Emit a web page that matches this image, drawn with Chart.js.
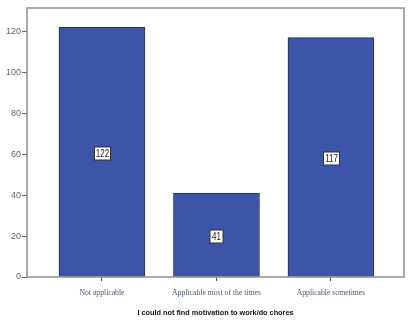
<!DOCTYPE html>
<html>
<head>
<meta charset="utf-8">
<script src="https://cdn.jsdelivr.net/npm/chart.js@4"></script>
<style>
  html, body { margin: 0; padding: 0; background: #fff; }
  #wrap { width: 409px; height: 321px; }
</style>
</head>
<body>
<div id="wrap"><canvas id="motivationChart" width="409" height="321"></canvas></div>
<script>
const categories = ['Not applicable', 'Applicable most of the times', 'Applicable sometimes'];
const counts = [122, 41, 117];
const yTicks = [0, 20, 40, 60, 80, 100, 120];
const xTitle = 'I could not find motivation to work/do chores';

const sans = '"Liberation Sans", Arial, sans-serif';

// frame round the plot area plus boxed count labels inside the bars
const framePlugin = {
    id: 'frame',
    afterDraw(chart) {
        const { ctx, chartArea: a } = chart;
        ctx.save();
        ctx.strokeStyle = '#909090';
        ctx.lineWidth = 1.5;
        ctx.strokeRect(a.left, a.top, a.right - a.left, a.bottom - a.top);

        const meta = chart.getDatasetMeta(0);
        const squeeze = 0.76;
        ctx.font = '10.5px ' + sans;
        ctx.textAlign = 'center';
        ctx.textBaseline = 'middle';
        meta.data.forEach((bar, i) => {
            const txt = String(counts[i]);
            const cx = Math.round(bar.x) + 0.5;
            const cy = Math.round((bar.y + bar.base) / 2 + 1) + 0.5;
            const w = Math.max(13, Math.round(ctx.measureText(txt).width * squeeze + 3));
            const h = 13;
            ctx.fillStyle = '#fff';
            ctx.fillRect(cx - w / 2, cy - h / 2, w, h);
            ctx.strokeStyle = '#333';
            ctx.lineWidth = 1;
            ctx.strokeRect(cx - w / 2, cy - h / 2, w, h);
            ctx.save();
            ctx.translate(cx, cy + 0.5);
            ctx.scale(squeeze, 1);
            ctx.fillStyle = '#222';
            ctx.fillText(txt, 0, 0);
            ctx.restore();
        });
        ctx.restore();
    }
};

const ctx = document.getElementById('motivationChart').getContext('2d');

new Chart(ctx, {
    type: 'bar',
    data: {
        datasets: [{
            label: 'Count',
            data: counts.map((v, i) => ({ x: i, y: v })),
            backgroundColor: '#3d55a8',
            borderColor: '#2b2f45',
            borderWidth: 1,
            borderSkipped: false,
            barThickness: 86
        }]
    },
    options: {
        responsive: false,
        animation: false,
        layout: { padding: { top: 8, right: 5, left: 0, bottom: 0 } },
        plugins: {
            legend: { display: false },
            tooltip: { enabled: false }
        },
        scales: {
            x: {
                type: 'linear',
                offset: false,
                min: -0.655,
                max: 2.638,
                afterBuildTicks: scale => {
                    scale.ticks = categories.map((c, i) => ({ value: i }));
                },
                afterFit: scale => { scale.height = 44; },
                grid: {
                    display: true,
                    offset: false,
                    drawOnChartArea: false,
                    drawTicks: true,
                    tickLength: 4,
                    color: '#555'
                },
                border: { display: false },
                ticks: {
                    maxRotation: 0,
                    autoSkip: false,
                    padding: 7,
                    color: '#4a5870',
                    font: { family: '"Liberation Serif", "Times New Roman", serif', size: 7.7 },
                    callback: v => categories[v]
                },
                title: {
                    display: true,
                    text: xTitle,
                    color: '#111',
                    padding: { top: 1 },
                    font: { family: sans, size: 7.3, weight: 'bold' }
                }
            },
            y: {
                min: 0,
                max: 131.5,
                afterBuildTicks: scale => {
                    scale.ticks = yTicks.map(v => ({ value: v }));
                },
                afterFit: scale => { scale.width = 27; },
                grid: {
                    display: true,
                    drawOnChartArea: false,
                    drawTicks: true,
                    tickLength: 5,
                    color: '#666'
                },
                border: { display: false },
                ticks: {
                    padding: 1,
                    color: '#666',
                    font: { family: sans, size: 9 }
                }
            }
        }
    },
    plugins: [framePlugin]
});
</script>
</body>
</html>
